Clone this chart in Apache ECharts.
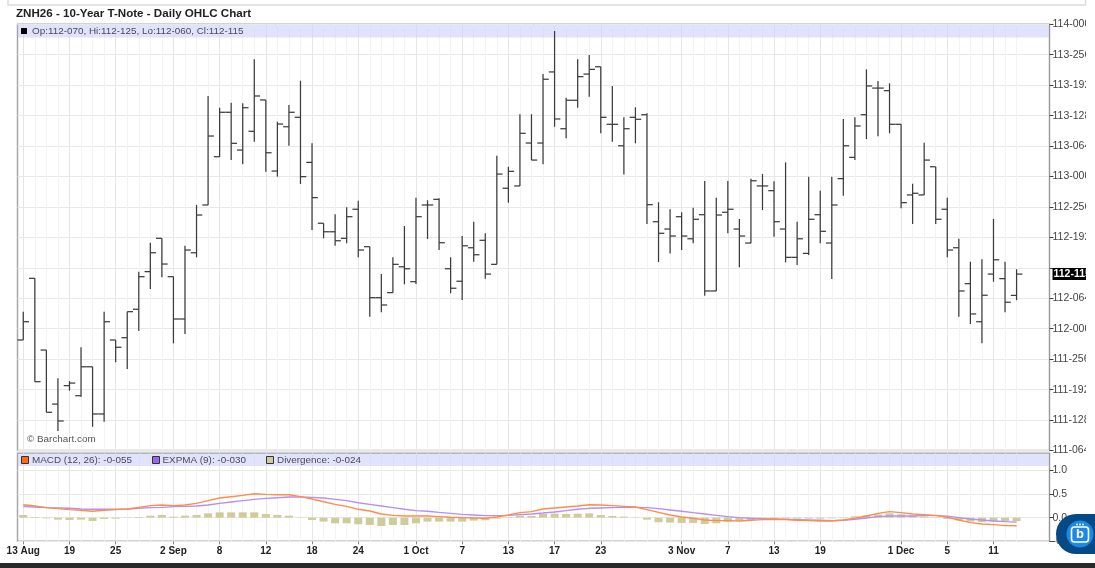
<!DOCTYPE html>
<html><head><meta charset="utf-8">
<style>html,body{margin:0;padding:0;background:#fff;overflow:hidden}#c{width:1095px;height:568px}</style>
<script src="https://cdn.jsdelivr.net/npm/echarts@6/dist/echarts.min.js"></script>
</head><body><div id="c"></div>
<script>
const opens=[111.926,112.331,111.860,111.505,111.626,111.560,111.750,111.440,111.926,111.941,112.128,112.375,112.594,112.342,112.064,112.499,112.813,113.130,113.422,113.174,113.297,113.503,113.036,113.327,113.389,113.093,112.693,112.637,112.594,112.785,112.539,112.204,112.237,112.407,112.309,112.813,112.850,112.394,112.312,112.532,112.581,112.423,112.923,112.938,113.220,113.220,113.687,113.314,113.501,113.673,113.721,113.343,113.202,113.389,113.406,112.703,112.655,112.736,112.591,112.749,112.248,112.765,112.655,112.563,112.938,112.907,112.655,112.469,112.495,112.749,112.563,112.986,113.126,113.406,113.581,113.564,113.343,112.879,112.879,113.064,112.785,112.532,112.296,112.046,112.359,112.329,112.219];
const highs=[112.112,112.331,111.860,111.674,111.656,111.878,111.750,112.112,111.926,112.112,112.375,112.565,112.594,112.342,112.545,112.813,113.529,113.452,113.485,113.481,113.770,113.503,113.360,113.470,113.629,113.218,112.693,112.752,112.798,112.841,112.539,112.359,112.469,112.675,112.861,112.844,112.857,112.469,112.609,112.703,112.627,113.137,113.064,113.409,113.409,113.673,113.956,113.518,113.770,113.798,113.721,113.595,113.389,113.455,113.415,112.831,112.785,112.765,112.795,112.970,112.861,112.970,112.721,112.986,113.016,112.969,113.093,112.703,112.999,112.907,112.999,113.378,113.389,113.704,113.627,113.612,113.343,112.953,113.222,113.064,112.861,112.591,112.440,112.456,112.721,112.440,112.391];
const lows=[111.926,111.652,111.451,111.328,111.593,111.553,111.356,111.389,111.779,111.735,111.985,112.261,112.338,111.904,111.965,112.469,112.813,113.130,113.108,113.080,113.229,113.032,112.999,113.202,112.951,112.649,112.594,112.545,112.561,112.469,112.079,112.108,112.237,112.292,112.294,112.589,112.517,112.233,112.189,112.440,112.329,112.423,112.828,112.938,113.108,113.080,113.327,113.251,113.452,113.524,113.284,113.229,113.014,113.218,112.688,112.438,112.495,112.517,112.561,112.217,112.248,112.627,112.403,112.561,112.780,112.605,112.436,112.419,112.484,112.561,112.327,112.874,113.108,113.246,113.264,113.284,112.791,112.688,112.879,112.688,112.469,112.079,112.031,111.904,112.309,112.108,112.1875];
const closes=[112.046,111.652,111.451,111.394,111.643,111.750,111.440,112.046,111.878,112.112,112.342,112.499,112.425,112.064,112.517,112.747,113.266,113.422,113.218,113.452,113.529,113.156,113.345,113.422,112.999,112.861,112.637,112.578,112.736,112.517,112.204,112.156,112.423,112.394,112.736,112.813,112.565,112.266,112.545,112.486,112.359,113.016,113.034,113.284,113.108,113.639,113.378,113.501,113.656,113.704,113.389,113.343,113.314,113.376,112.815,112.627,112.609,112.609,112.719,112.248,112.747,112.785,112.609,112.972,112.938,112.703,112.469,112.591,112.719,112.640,112.813,113.202,113.332,113.595,113.581,113.343,112.828,112.890,113.108,112.719,112.517,112.248,112.097,112.220,112.453,112.174,112.359];
const macd=[.274,.246,.211,.190,.169,.155,.134,.155,.169,.183,.218,.253,.267,.253,.267,.302,.359,.415,.443,.471,.506,.492,.485,.485,.443,.394,.337,.281,.239,.176,.141,.077,.049,.035,.035,.035,.021,.007,0,-.007,-.014,.014,.056,.105,.127,.183,.204,.225,.246,.274,.267,.253,.239,.225,.169,.112,.056,.014,-.014,-.049,-.063,-.063,-.070,-.056,-.042,-.035,-.042,-.056,-.063,-.070,-.070,-.049,-.014,.035,.091,.127,.105,.077,.063,.049,.007,-.049,-.105,-.134,-.148,-.169,-.172];
const expma=[.232,.225,.211,.204,.197,.183,.176,.176,.176,.183,.197,.211,.218,.232,.239,.246,.267,.302,.330,.359,.387,.408,.422,.436,.436,.429,.415,.387,.359,.316,.281,.246,.211,.176,.148,.134,.112,.091,.070,.056,.042,.042,.049,.063,.077,.098,.120,.148,.176,.197,.204,.211,.218,.218,.211,.190,.162,.134,.105,.077,.049,.021,0,-.014,-.021,-.028,-.035,-.042,-.049,-.056,-.063,-.056,-.035,-.007,.021,.035,.035,.035,.042,.042,.028,0,-.028,-.049,-.070,-.084,-.094];
const divergence=[.056,.014,-.014,-.042,-.049,-.042,-.070,-.028,-.021,-.007,.014,.042,.056,.021,.042,.056,.091,.112,.112,.112,.112,.077,.056,.042,.007,-.049,-.084,-.120,-.120,-.141,-.155,-.176,-.155,-.155,-.120,-.084,-.084,-.084,-.084,-.063,-.056,-.021,.007,.042,.035,.077,.084,.077,.084,.091,.056,.035,.021,.007,-.042,-.098,-.105,-.112,-.112,-.134,-.120,-.091,-.063,-.049,-.028,-.014,-.014,-.021,-.021,-.021,-.014,.007,.028,.049,.070,.091,.070,.042,.021,.007,-.028,-.056,-.084,-.091,-.077,-.084,-.075];
const tickBars=[0,4,8,13,17,21,25,29,34,38,42,46,50,57,61,65,69,76,80,84];
const tickLabels=['13 Aug','19','25','2 Sep','8','12','18','24','1 Oct','7','13','17','23','3 Nov','7','13','19','1 Dec','5','11'];
const hiddenPriceTick=112.4;
const macdTicks=[-.5,0,.5,1];
const titleText='ZNH26 - 10-Year T-Note - Daily OHLC Chart';
const ohlcText='Op:112-070, Hi:112-125, Lo:112-060, Cl:112-115';
const lastLabel='112-115';

const allBars=opens.map((_,i)=>i);
const lastBar=allBars.length-1;
const font='"Liberation Sans",Arial,sans-serif';
const fmtPrice=v=>{const w=Math.floor(v+1e-6);const d=Math.round((v-w)*320);return w+'-'+String(d).padStart(3,'0');};
const G1={left:17.5,top:24.3,width:1032,height:426.2};
const G2={left:17.5,top:453.3,width:1032,height:88};
const XMIN=-0.5,XMAX=88.85;
function xAxisFor(gi,ticks,color,withLabels){
  return {type:'value',gridIndex:gi,min:XMIN,max:XMAX,position:'bottom',
    axisLine:{show:false,onZero:false},
    axisTick:{show:withLabels,length:3,customValues:ticks,lineStyle:{color:'#888'}},
    axisLabel:{show:withLabels,customValues:ticks,margin:5,hideOverlap:false,fontFamily:font,fontSize:10,fontWeight:'bold',color:'#222',
      formatter:v=>tickLabels[tickBars.indexOf(Math.round(v))]||''},
    splitLine:{show:true,lineStyle:{color,width:1}}};
}
const ohlcRender=(params,api)=>{
  const i=api.value(0);
  const p=k=>api.coord([i,api.value(k)]);
  const o=p(1),h=p(2),l=p(3),c=p(4);
  const hw=api.size([1,0])[0]/2;
  const style={stroke:'#3c3c3c',lineWidth:1.25,fill:null};
  return {type:'group',children:[
    {type:'line',shape:{x1:h[0],y1:h[1],x2:l[0],y2:l[1]},style},
    {type:'line',shape:{x1:o[0]-hw,y1:o[1],x2:o[0],y2:o[1]},style},
    {type:'line',shape:{x1:c[0],y1:c[1],x2:c[0]+hw,y2:c[1]},style}
  ]};
};
const lastRender=(params,api)=>{
  const y=api.coord([api.value(0),api.value(1)])[1];
  const x=params.coordSys.x+params.coordSys.width+3;
  return {type:'text',x,y,z2:50,style:{text:lastLabel,verticalAlign:'middle',fontFamily:font,fontSize:10.5,fontWeight:'bold',fill:'#fff',backgroundColor:'#000',padding:[1,1,0,1]}};
};
const legendFont={fontFamily:font,fontSize:9.9,fill:'#4a4a5a'};
const swatch=(x,y,fill)=>({type:'rect',shape:{x,y,width:7,height:7},style:{fill,stroke:'#333',lineWidth:1},z:20});
const label=(x,y,text,extra)=>({type:'text',x,y,style:Object.assign({text,verticalAlign:'middle'},legendFont,extra||{}),z:20});
const chart=echarts.init(document.getElementById('c'),null,{renderer:'canvas'});
chart.setOption({
  animation:false,backgroundColor:'#fff',
  grid:[Object.assign({show:true,borderColor:'#a8a8a8',borderWidth:1.5,backgroundColor:'#fff'},G1),
        Object.assign({show:true,borderColor:'#a8a8a8',borderWidth:1.5,backgroundColor:'#fff'},G2)],
  xAxis:[xAxisFor(0,allBars,'#f3f3f3',false),xAxisFor(0,tickBars,'#e6e6e6',false),
         xAxisFor(1,allBars,'#f3f3f3',false),xAxisFor(1,tickBars,'#e6e6e6',true)],
  yAxis:[
   {type:'value',gridIndex:0,position:'right',min:111.2,max:114,interval:0.2,
    axisLine:{show:true,onZero:false,lineStyle:{color:'#999',width:1}},
    axisTick:{show:true,length:4,lineStyle:{color:'#444'}},
    axisLabel:{margin:3,fontFamily:font,fontSize:10.5,color:'#444',showMinLabel:true,showMaxLabel:true,
      formatter:v=>Math.abs(v-hiddenPriceTick)<1e-6?'':fmtPrice(v)},
    splitLine:{lineStyle:{color:'#e8e8e8',width:1}}},
   {type:'value',gridIndex:1,position:'right',min:-.5,max:1.36,
    axisLine:{show:true,onZero:false,lineStyle:{color:'#999',width:1}},
    axisTick:{show:true,length:4,customValues:macdTicks,lineStyle:{color:'#444'}},
    axisLabel:{margin:3,customValues:macdTicks,fontFamily:font,fontSize:10.5,color:'#444',formatter:v=>v.toFixed(1)},
    splitLine:{lineStyle:{color:'#e8e8e8',width:1}}}
  ],
  series:[
   {type:'custom',name:'OHLC',xAxisIndex:0,yAxisIndex:0,clip:false,z:5,
    encode:{x:0,y:[1,2,3,4]},
    data:allBars.map(i=>[i,opens[i],highs[i],lows[i],closes[i]]),
    renderItem:ohlcRender},
   {type:'custom',name:'Last',xAxisIndex:0,yAxisIndex:0,clip:false,z:6,silent:true,
    encode:{x:0,y:1},data:[[lastBar,closes[lastBar]]],renderItem:lastRender},
   {type:'bar',name:'Divergence',xAxisIndex:2,yAxisIndex:1,barWidth:8,z:3,
    itemStyle:{color:'#cfcb9b'},data:allBars.map(i=>[i,divergence[i]])},
   {type:'line',name:'EXPMA',xAxisIndex:2,yAxisIndex:1,showSymbol:false,z:4,
    lineStyle:{color:'#b48ff5',width:1.4},data:allBars.map(i=>[i,expma[i]])},
   {type:'line',name:'MACD',xAxisIndex:2,yAxisIndex:1,showSymbol:false,z:5,
    lineStyle:{color:'#ff8c4a',width:1.4},data:allBars.map(i=>[i,macd[i]])}
  ],
  graphic:[
   {type:'rect',shape:{x:18,y:25,width:1031,height:12.5},style:{fill:'rgba(205,208,250,0.6)'},z:1},
   {type:'rect',shape:{x:18,y:453.5,width:1031,height:12.5},style:{fill:'rgba(205,208,250,0.6)'},z:1},
   {type:'rect',shape:{x:1086,y:0,width:9,height:563},style:{fill:'#fff'},z:30},
   {type:'polyline',shape:{points:[[8,0],[8,5],[1085.5,5],[1085.5,0]]},style:{stroke:'#dcdcdc',lineWidth:1.5,fill:null},z:31},
   {type:'rect',shape:{x:0,y:563,width:1095,height:5},style:{fill:'#2a2a2a'},z:31},
   {type:'text',x:16,y:14,style:{text:titleText,verticalAlign:'middle',fontFamily:font,fontSize:11.6,fontWeight:'bold',fill:'#222'},z:20},
   {type:'rect',shape:{x:21,y:28,width:6,height:6},style:{fill:'#000'},z:20},
   label(32,31,ohlcText),
   label(27,439,'© Barchart.com',{fill:'#555'}),
   swatch(21.5,456.5,'#ff6a13'),label(32,460,'MACD (12, 26): -0-055'),
   swatch(152.5,456.5,'#9a66f0'),label(162.5,460,'EXPMA (9): -0-030'),
   swatch(266.5,456.5,'#cfcb9b'),label(277,460,'Divergence: -0-024'),
   {type:'rect',shape:{x:1056,y:514,width:60,height:40,r:20},style:{fill:'#034a86'},z:40},
   {type:'circle',shape:{cx:1080,cy:534,r:13.5},style:{fill:'#1e88e5'},z:41},
   {type:'rect',shape:{x:1071.5,y:527,width:17,height:15,r:3},style:{fill:'none',stroke:'#fff',lineWidth:1.6},z:42},
   {type:'text',x:1080,y:534.5,style:{text:'b',align:'center',verticalAlign:'middle',fontFamily:font,fontSize:13,fontWeight:'bold',fill:'#fff'},z:42},
   {type:'circle',shape:{cx:1077,cy:524.5,r:0.9},style:{fill:'#fff'},z:42},
   {type:'circle',shape:{cx:1080,cy:524.5,r:0.9},style:{fill:'#fff'},z:42},
   {type:'circle',shape:{cx:1083,cy:524.5,r:0.9},style:{fill:'#fff'},z:42}
  ]
});
</script></body></html>
